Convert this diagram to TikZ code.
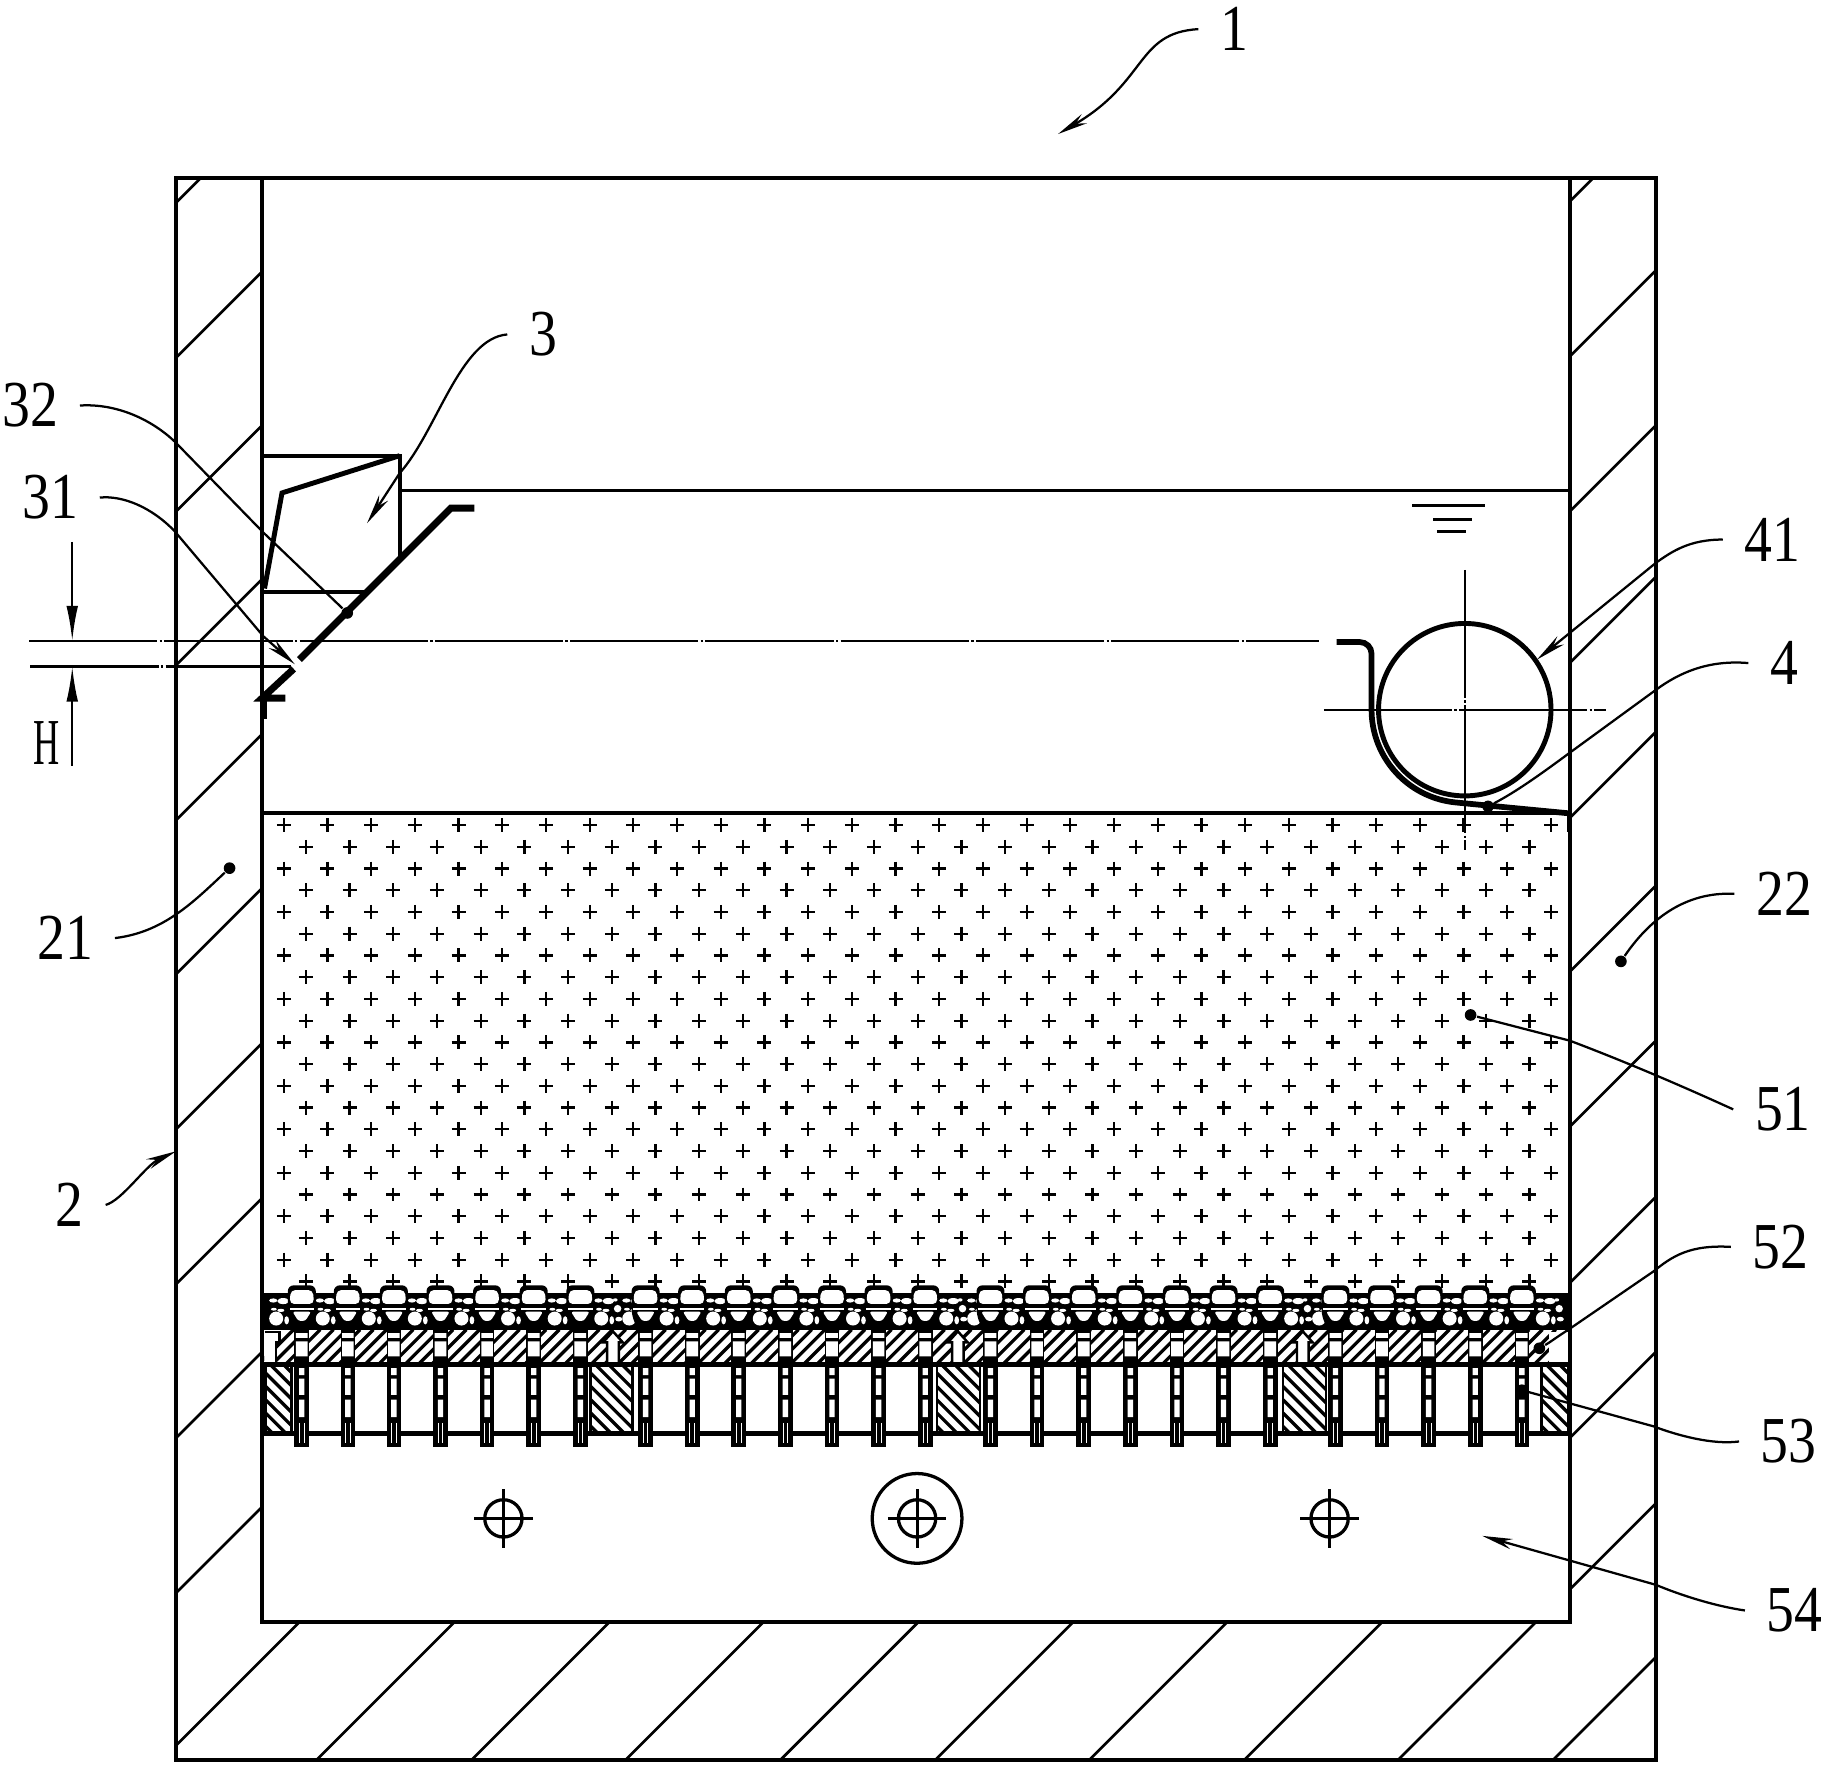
\documentclass[tikz,border=0pt]{standalone}
\usepackage{fontspec}
\setmainfont[FakeStretch=0.85]{Liberation Serif}
\usetikzlibrary{arrows.meta}
\tikzset{
  wall/.style={line width=1pt},
  hatchline/.style={line width=.65pt},
  leader/.style={line width=.55pt},
  leadarrow/.style={leader,-{Stealth[length=.26cm,width=.09cm]}},
  dimarrow/.style={leader,-{Latex[length=.3cm,width=.1cm]}},
  centerline/.style={line width=.55pt,dash pattern=on 1.1cm off .02cm on .02cm off .02cm},
  plate/.style={line width=1.7pt},
  lbl/.style={inner xsep=.18cm,inner ysep=.06cm,font=\fontsize{16}{18}\selectfont},
  pt/.style={circle,fill=black,inner sep=0pt,minimum size=.1cm},
  nozzle/.pic={
    \fill[black] (-6.3,1141) rectangle (6.3,1241.5);
    \fill[white] (-5,1144) rectangle (5,1148) (-5,1151) rectangle (5,1164);
    \fill[white] (-2.3,1174) rectangle (2.3,1180) (-2.3,1183) rectangle (2.3,1197) (-2.3,1201) rectangle (2.3,1216);
    \draw[white,line width=.2pt] (-2,1221) -- (-2,1238) (2,1221) -- (2,1238);
    \fill[black,rounded corners=.05cm] (-12,1128) -- (-12,1103) -- (12,1103) -- (12,1128) -- (7,1141) -- (-7,1141) -- cycle;
    \fill[white,rounded corners=.04cm] (-10.5,1119) -- (-9.5,1107) -- (9.5,1107) -- (10.5,1119) -- cycle;
    \fill[white] (-10.5,1122.4) rectangle (10.5,1124.2);
    \fill[white,rounded corners=.02cm] (-8,1125.6) -- (8,1125.6) -- (3,1133.5) -- (-3,1133.5) -- cycle;
  },
  stones/.pic={
    \fill[white] (18,1131.5) ellipse [x radius=6,y radius=6];
    \fill[white] (24,1116.5) ellipse [x radius=5,y radius=2.6];
    \fill[white] (15.5,1116) ellipse [x radius=3.5,y radius=1.8];
    \fill[white] (16,1123.5) ellipse [x radius=2.5,y radius=1.2];
    \fill[white] (22,1124.5) ellipse [x radius=3,y radius=1.4];
    \fill[white] (27,1133) ellipse [x radius=2,y radius=3.5];
    \fill[white] (32,1123) circle [radius=3.2];
    \fill[white] (33,1132) ellipse [x radius=3,y radius=2];
    \fill[white] (30,1115.5) ellipse [x radius=2,y radius=1.4];
  }
}
\begin{document}
\begin{tikzpicture}[x=.01cm,y=-.01cm]
\useasboundingbox (0,0) rectangle (1567,1516.4);

\foreach \j in {0,...,21} {
  \edef\k{\ifodd\numexpr\j\relax 262.5\else 243.5\fi}
  \edef\n{\ifodd\numexpr\j\relax 28\else 29\fi}
  \foreach \i in {0,...,\n} {
    \draw[line width=.55pt] ({\k+37.5*\i-6},{708+18.65*\j}) -- ++(12,0)
      ({\k+37.5*\i},{708+18.65*\j-6}) -- ++(0,12);
  }
}

\fill[black] (226,1110) rectangle (1347,1141);
\begin{scope}
  \clip (227,1113) rectangle (1346,1138);
  \foreach \x in {219,259,298.5,338,378,418,458,498,522,554,594,634,674,714,754,794,818,850,890,930,970,1010,1050,1090,1114,1146,1186,1226,1266,1306}
    \pic at (\x,0) {stones};
\end{scope}

\begin{scope}
  \clip (227,1141) rectangle (1347,1171);
  \foreach \x in {222,233.4,...,1350}
    \draw[line width=.8pt] (\x,1171) -- ++(30,-30);
\end{scope}
\foreach \a/\b in {228/250,507/543,804/841,1101/1138,1323/1346} {
  \begin{scope}
    \clip (\a,1171) rectangle (\b,1230);
    \foreach \y in {1110,1121.4,...,1230}
      \draw[line width=.8pt] (\a,\y) -- ++(70,70);
  \end{scope}
  \draw[hatchline] (\a,1171) -- (\a,1230) (\b,1171) -- (\b,1230);
}
\fill[white] (1329,1143) rectangle (1346,1170);
\foreach \x in {526,822,1118}
  \draw[fill=white,line width=.6pt] (\x-5,1171) -- (\x-5,1152) -- (\x-8.5,1152) -- (\x,1142.5) -- (\x+8.5,1152) -- (\x+5,1152) -- (\x+5,1171);
\draw[fill=white,line width=.6pt] (227,1143) -- (240,1143) -- (240,1152) -- (237,1152) -- (237,1171) -- (227,1171);
\draw[line width=1.1pt] (226,1171) -- (1347,1171) (226,1230) -- (1347,1230);

\foreach \x in {259,298.5,338,378,418,458,498,554,594,634,674,714,754,794,850,890,930,970,1010,1050,1090,1146,1186,1226,1266,1306}
  \pic at (\x,0) {nozzle};

\begin{scope}
  \clip (151,153) rectangle (225,1392);
  \foreach \y in {100,233,365,497,630,762,895,1028,1160,1293}
    \draw[hatchline] (225,\y) -- ++(-74,74);
\end{scope}
\begin{scope}
  \clip (1347,153) rectangle (1421,1392);
  \foreach \y in {99,232,365,495,628,760,893,1027,1160,1290}
    \draw[hatchline] (1421,\y) -- ++(-74,74);
\end{scope}
\begin{scope}
  \clip (151,1392) rectangle (1421,1510);
  \foreach \x in {139,272,405,537,670,803,935,1068,1200,1333}
    \draw[hatchline] (\x,1510) -- ++(118,-118);
\end{scope}

\draw[wall] (151,153) rectangle (1421,1510);
\draw[wall] (225,153) rectangle (1347,1392);
\draw[wall] (225,698) -- (1347,698);
\draw[leader,line width=.7pt] (343,421) -- (1347,421);

\draw[wall] (226,391) -- (343,391) -- (343,479);
\draw[wall] (226,508) -- (312,508);
\draw[line width=1.2pt] (343,391) -- (242,423) -- (227,505);
\draw[plate] (407,436) -- (387,436) -- (257,566);
\draw[plate] (252,574) -- (225,599) -- (245,599);
\draw[plate] (226,599) -- (226,617);
\node[pt] (d32) at (298,526) {};

\draw[centerline] (25,550) -- (1132,550);
\draw[centerline] (26,572) -- (250,572);
\node[lbl] (nH) at (40,638) {\scalebox{.65}[1]{H}};
\coordinate (h1) at (62,550);
\coordinate (h2) at (62,572);
\draw[dimarrow] (62,465) -- (h1);
\draw[dimarrow] (62,657) -- (h2);

\draw[line width=.8pt] (1212,434) -- (1274,434) (1230,446) -- (1263,446) (1233,456) -- (1258,456);
\draw[line width=1.2pt] (1257,609) circle [radius=74];
\draw[centerline] (1257,489) -- (1257,729);
\draw[centerline] (1136,609) -- (1378,609);
\draw[line width=1.4pt,rounded corners=.1cm] (1147,551) -- (1177,551) -- (1177,609);
\draw[line width=1.4pt] plot[smooth,domain=180:95,samples=24] ({1257+80*cos(\x)},{609+80*sin(\x)}) -- (1347,698);
\node[pt] (d4) at (1277,692) {};
\fill[black] (1345,698) rectangle (1348,714);

\node[lbl] (n1) at (1059,25) {1};
\node[lbl] (n3) at (466,287) {3};
\node[lbl] (n32) at (26,348) {32};
\node[lbl] (n31) at (43,427) {31};
\node[lbl] (n41) at (1521,463) {41};
\node[lbl] (n4) at (1531,569) {4};
\node[lbl] (n22) at (1531,767) {22};
\node[lbl] (n51) at (1530,952) {51};
\node[lbl] (n52) at (1528,1070) {52};
\node[lbl] (n53) at (1535,1237) {53};
\node[lbl] (n54) at (1540,1382) {54};
\node[lbl] (n21) at (56,805) {21};
\node[lbl] (n2) at (60,1034) {2};

\node[pt] (d21) at (197,745) {};
\node[pt] (d22) at (1391,825) {};
\node[pt] (d51) at (1262,871) {};
\node[pt] (d52) at (1321,1157) {};
\node[pt] (d53) at (1306,1193) {};
\coordinate (a1) at (908,115);
\coordinate (a3) at (315,449);
\coordinate (a31) at (253,570);
\coordinate (a41) at (1319,566);
\coordinate (a54) at (1272,1318);
\coordinate (a2) at (151,988);

\draw[leadarrow] (n1.west) .. controls (975,28) and (985,70) .. (a1);
\draw[leadarrow] (n3.west) .. controls (395,290) and (375,370) .. (343,406) -- (a3);
\draw[leader] (n32.east) .. controls (100,346) and (130,360) .. (150,379) -- (226,457) -- (d32);
\draw[leadarrow] (n31.east) .. controls (105,425) and (130,435) .. (150,456) -- (226,546) -- (a31);
\draw[leadarrow] (n41.west) .. controls (1450,463) and (1435,473) .. (1421,483) -- (a41);
\draw[leader] (n4.west) .. controls (1465,566) and (1440,578) .. (1421,592) -- (1347,646) .. controls (1320,666) and (1300,680) .. (d4);
\draw[leader] (n21.east) .. controls (140,800) and (165,775) .. (d21);
\draw[leader] (n22.west) .. controls (1445,765) and (1415,790) .. (d22);
\draw[leader] (n51.west) .. controls (1450,935) and (1400,913) .. (1347,893) -- (d51);
\draw[leader] (n52.west) .. controls (1450,1068) and (1435,1078) .. (1419,1091) -- (1346,1141) .. controls (1335,1148) and (1330,1152) .. (d52);
\draw[leader] (n53.west) .. controls (1470,1240) and (1440,1232) .. (1419,1224) -- (d53);
\draw[leadarrow] (n54.west) .. controls (1470,1378) and (1440,1368) .. (1421,1360) -- (a54);
\draw[leadarrow] (n2.east) .. controls (105,1030) and (125,1000) .. (a2);

\foreach \x/\r in {432/0,787/38.5,1141/0} {
  \draw[line width=.8pt] (\x,1303) circle [radius=16];
  \draw[line width=.7pt] (\x-25,1303) -- (\x+25,1303) (\x,1278) -- (\x,1328);
  \ifdim\r pt>0pt \draw[line width=.8pt] (\x,1303) circle [radius=\r]; \fi
}
\end{tikzpicture}
\end{document}
